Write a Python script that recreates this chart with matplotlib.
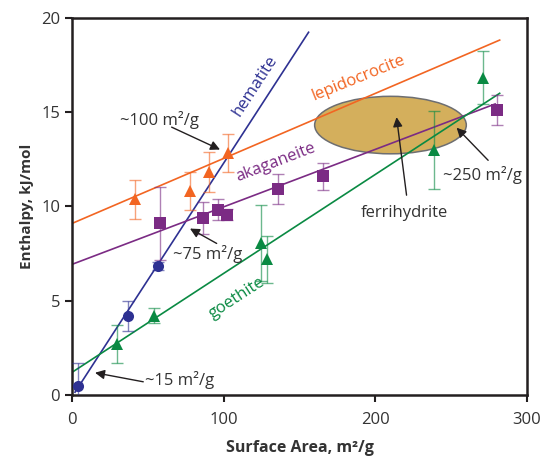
import numpy as np
import matplotlib.pyplot as plt
from matplotlib.patches import Ellipse

plt.rcParams['font.family'] = ['Open Sans', 'DejaVu Sans']

# 데이터
hem_x = [4.2, 36.7, 56.9]
hem_y = [0.48, 4.2, 6.85]
hem_err = [1.2, 0.8, 0.2]

lep_x = [41.5, 77.9, 90.3, 102.6]
lep_y = [10.38, 10.82, 11.83, 12.84]
lep_err = [1.05, 1.0, 1.05, 1.0]

aka_x = [58, 86.2, 96.5, 102, 136, 165.7, 280]
aka_y = [9.1, 9.4, 9.84, 9.57, 10.95, 11.6, 15.14]
aka_err = [1.95, 0.85, 0.55, 0.3, 0.8, 0.7, 0.8]

goe_x = [29.9, 54, 124.6, 128.3, 238.9, 271.2]
goe_y = [2.7, 4.2, 8.07, 7.19, 13.0, 16.83]
goe_err = [1.0, 0.4, 2.0, 1.25, 2.05, 1.4]

# 직선 (기울기, 절편, x 범위)
hem_fit = (0.124, -0.1, 2, 156)
lep_fit = (0.0345, 9.1, 0, 282)
aka_fit = (0.0305, 6.93, 0, 279)
goe_fit = (0.0525, 1.2, 0, 282)

# 주석: 글자, 글자 위치, 화살표 시작, 화살표 끝
notes = [
    ('~100 m²/g', (57.7, 14.57), (65.7, 14.21), (97.6, 13.02)),
    ('~75 m²/g', (89.7, 7.5), (95.4, 8.04), (77.8, 8.83)),
    ('~15 m²/g', (71.2, 0.8), (47, 0.70), (15.2, 1.18)),
    ('~250 m²/g', (270.6, 11.66), (274.4, 12.45), (253.6, 14.18)),
    ('ferrihydrite', (218.9, 9.63), (220.6, 10.6), (214, 14.74)),
]

c_hem = '#2E3192'
c_lep = '#F26522'
c_aka = '#7B2B84'
c_goe = '#0A8A43'
txt = '#333333'

fig = plt.figure(figsize=(5.55, 4.57), dpi=100)
ax = fig.add_axes([0.1297, 0.1357, 0.8198, 0.8249])

# 페리하이드라이트 영역
ax.add_patch(Ellipse((210, 14.32), 100, 3.05, facecolor='#D4AF5C',
                     edgecolor='#6D6E71', linewidth=1.1, zorder=1))

def fit_line(fit, color):
    m, b, x0, x1 = fit
    xs = np.array([x0, x1])
    ax.plot(xs, m * xs + b, color=color, linewidth=1.2, zorder=2)

fit_line(hem_fit, c_hem)
fit_line(lep_fit, c_lep)
fit_line(aka_fit, c_aka)
fit_line(goe_fit, c_goe)

def points(x, y, err, color, marker, ms):
    ax.errorbar(x, y, yerr=err, fmt='none', ecolor=color, alpha=0.6,
                elinewidth=1.0, capsize=4, capthick=1.0, zorder=3)
    ax.plot(x, y, linestyle='none', marker=marker, markersize=ms,
            color=color, markeredgewidth=0, zorder=4)

points(hem_x, hem_y, hem_err, c_hem, 'o', 8)
points(lep_x, lep_y, lep_err, c_lep, '^', 8.5)
points(aka_x, aka_y, aka_err, c_aka, 's', 8)
points(goe_x, goe_y, goe_err, c_goe, '^', 8.5)

# 선 이름
ax.text(121, 16.4, 'hematite', color=c_hem, fontsize=12, rotation=57,
        ha='center', va='center')
ax.text(189, 16.8, 'lepidocrocite', color=c_lep, fontsize=12, rotation=22,
        ha='center', va='center')
ax.text(134, 12.35, 'akaganeite', color=c_aka, fontsize=12, rotation=21,
        ha='center', va='center')
ax.text(109, 5.15, 'goethite', color=c_goe, fontsize=12, rotation=33,
        ha='center', va='center')

for label, pos, tail, head in notes:
    ax.text(pos[0], pos[1], label, fontsize=12, color=txt,
            ha='center', va='center')
    ax.annotate('', xy=head, xytext=tail,
                arrowprops=dict(arrowstyle='-|>', color='#231F20', lw=1.0,
                                mutation_scale=14, shrinkA=0, shrinkB=0))

ax.set_xlim(0, 300)
ax.set_ylim(0, 20)
ax.set_xticks([0, 100, 200, 300])
ax.set_yticks([0, 5, 10, 15, 20])
ax.tick_params(direction='out', length=5, width=1.5, color='#231F20',
               labelsize=12, labelcolor=txt)
ax.tick_params(axis='x', pad=7)
for s in ax.spines.values():
    s.set_linewidth(1.8)
    s.set_color('#231F20')

ax.set_xlabel('Surface Area, m²/g', fontsize=11.5, fontweight='bold',
              color=txt, labelpad=9)
ax.set_ylabel('Enthalpy, kJ/mol', fontsize=11, fontweight='bold',
              color=txt, labelpad=5)

fig.savefig('out.png', dpi=100)
